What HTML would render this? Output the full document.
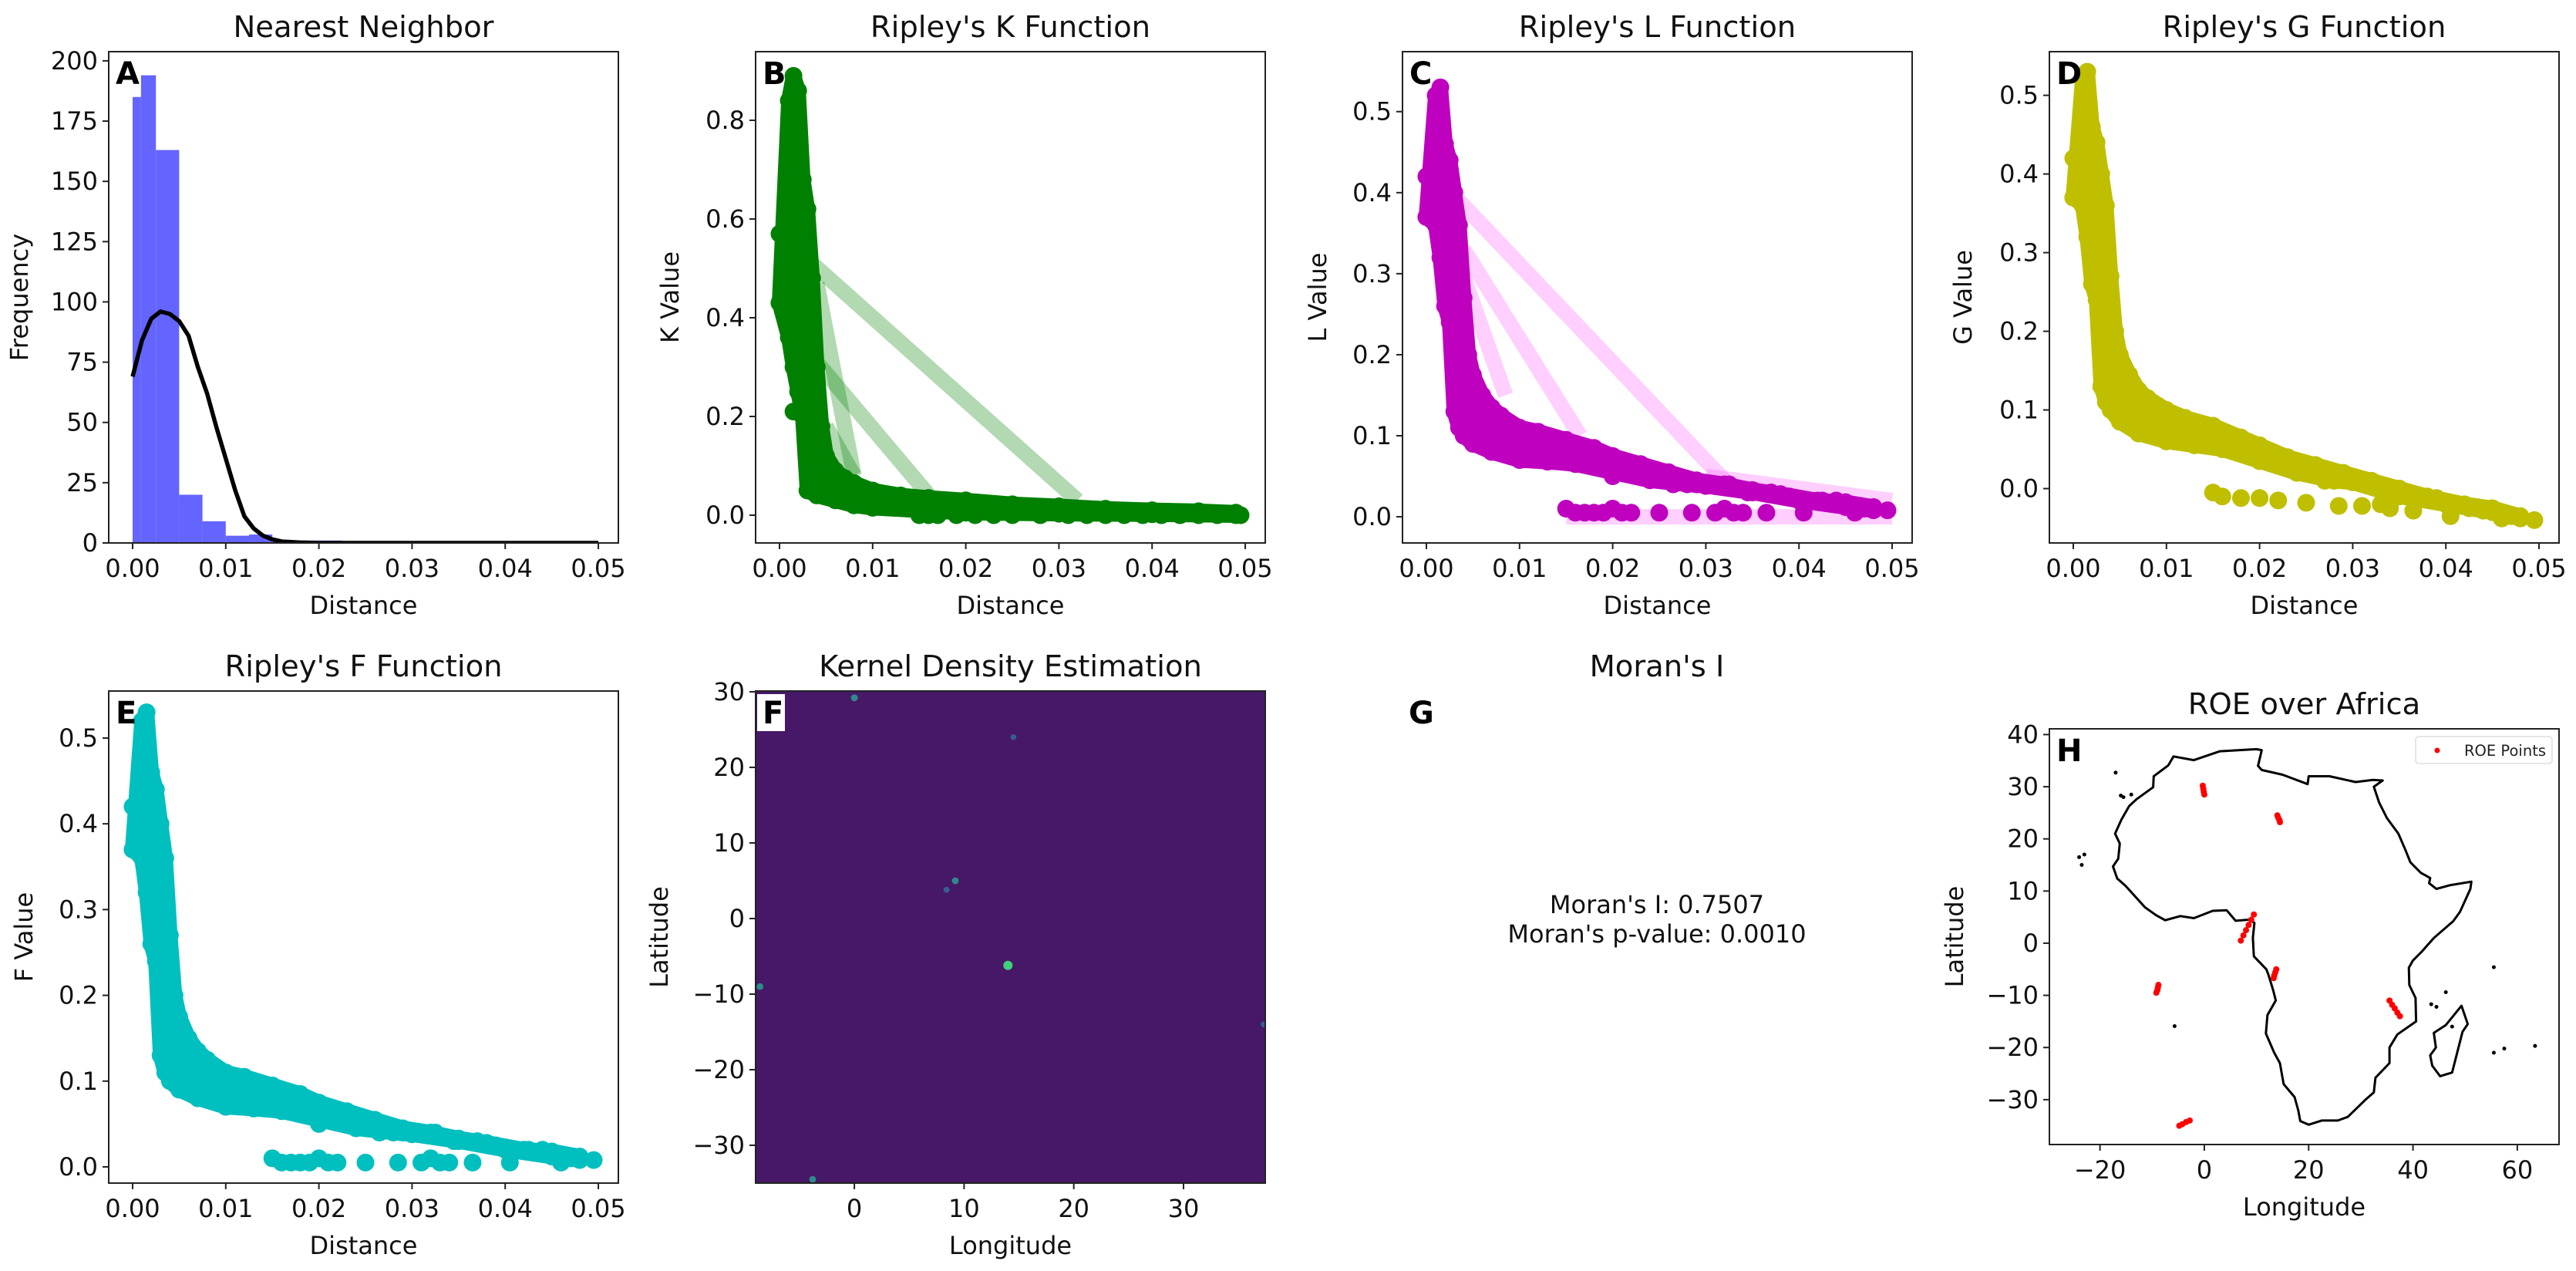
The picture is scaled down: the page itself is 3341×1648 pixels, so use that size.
<!DOCTYPE html>
<html><head><meta charset="utf-8"><style>
html,body{margin:0;padding:0;background:#fff;}
svg{display:block;font-family:"DejaVu Sans","Liberation Sans",sans-serif;}
</style></head><body>
<svg id="fig" width="3341" height="1648" viewBox="0 0 3341 1648" xmlns="http://www.w3.org/2000/svg"></svg>
<script>
// ---------- DATA ----------
const distTicks = [0, 0.01, 0.02, 0.03, 0.04, 0.05];
const distTickLabels = ["0.00","0.01","0.02","0.03","0.04","0.05"];

// A: histogram
const histBinEdges = [0,0.0009,0.0025,0.005,0.0075,0.01,0.0125,0.015,0.0175,0.02,0.0225,0.025,0.0275,0.03,0.0325,0.035,0.0375,0.04,0.0425,0.045,0.0475,0.05];
const histCounts = [185,194,163,20,9,3,3.5,1,1,1,0,0,0,0,0,0,0,0,0,0,0];
const fitX = [0,0.001,0.002,0.003,0.004,0.005,0.006,0.007,0.008,0.009,0.010,0.011,0.012,0.013,0.014,0.015,0.016,0.018,0.02,0.03,0.04,0.05];
const fitY = [69,84,93,96,95,92,86,73,62,48,35,22,11,6,3,1.5,0.6,0.2,0,0,0,0];
const freqTicks = [0,25,50,75,100,125,150,175,200];

// B: K function
const kUpperX = [0.0010,0.0015,0.0020,0.0025,0.0030,0.0035,0.0040,0.0045,0.0050,0.0060,0.0070,0.0080,0.0100,0.0130,0.0160,0.0200,0.0250,0.0300,0.0350,0.0400,0.0450,0.0490];
const kUpperY = [0.84,0.89,0.86,0.68,0.62,0.48,0.30,0.18,0.12,0.09,0.075,0.065,0.05,0.04,0.035,0.03,0.022,0.018,0.013,0.01,0.008,0.005];
const kLowerX = [0.0000,0.0010,0.0015,0.0020,0.0025,0.0030,0.0040,0.0060,0.0080,0.0100,0.0150,0.0200,0.0300,0.0400,0.0490];
const kLowerY = [0.43,0.36,0.30,0.25,0.20,0.05,0.04,0.03,0.02,0.015,0.01,0.005,0.003,0.002,0.0];
const kDotX = [0,0,0.0015,0.015,0.016,0.017,0.019,0.021,0.023,0.025,0.028,0.031,0.033,0.035,0.037,0.039,0.041,0.043,0.045,0.047,0.0495];
const kDotY = [0.57,0.43,0.21,0,0,0,0,0,0,0,0,0,0,0,0,0,0,0,0,0,0];
const kBandX1 = [0.0035,0.004,0.004,0.0005,0.005];
const kBandY1 = [0.51,0.31,0.47,0.56,0.18];
const kBandX2 = [0.032,0.0165,0.008,0.002,0.008];
const kBandY2 = [0.03,0.03,0.08,0.43,0.08];
const kTicks = [0,0.2,0.4,0.6,0.8];

// C: L function
const lUpperX = [0.0010,0.0015,0.0020,0.0025,0.0030,0.0035,0.0040,0.0045,0.0050,0.0060,0.0070,0.0080,0.0100,0.0120,0.0150,0.0180,0.0200,0.0230,0.0260,0.0290,0.0320,0.0350,0.0380,0.0420,0.0450,0.0480];
const lUpperY = [0.52,0.53,0.46,0.44,0.40,0.36,0.27,0.20,0.175,0.15,0.135,0.125,0.11,0.105,0.095,0.085,0.075,0.065,0.055,0.045,0.04,0.033,0.028,0.02,0.018,0.012];
const lLowerX = [0.0000,0.0010,0.0015,0.0020,0.0025,0.0030,0.0035,0.0040,0.0050,0.0070,0.0100,0.0130,0.0160,0.0200,0.0240,0.0280,0.0300,0.0350,0.0400,0.0450,0.0480];
const lLowerY = [0.37,0.36,0.32,0.26,0.24,0.13,0.11,0.10,0.09,0.08,0.07,0.068,0.065,0.055,0.045,0.04,0.038,0.03,0.02,0.012,0.008];
const lDotX = [0,0,0.015,0.016,0.017,0.018,0.019,0.020,0.021,0.022,0.025,0.0285,0.031,0.032,0.033,0.034,0.0365,0.0405,0.0425,0.044,0.046,0.047,0.0495,0.039,0.0325,0.0345,0.037,0.029,0.0265,0.020];
const lDotY = [0.42,0.37,0.01,0.005,0.005,0.005,0.005,0.01,0.005,0.005,0.005,0.005,0.005,0.01,0.005,0.005,0.005,0.005,0.02,0.02,0.005,0.01,0.008,0.025,0.04,0.03,0.03,0.04,0.04,0.05];
const lBandX1 = [0.0035,0.004,0.0005,0.015,0.03];
const lBandY1 = [0.39,0.33,0.41,0.0,0.05];
const lBandX2 = [0.032,0.0165,0.0085,0.05,0.05];
const lBandY2 = [0.045,0.10,0.15,0.0,0.02];
const lTicks = [0,0.1,0.2,0.3,0.4,0.5];

// D: G function
const gUpperX = lUpperX.slice();
const gUpperY = [0.52,0.53,0.46,0.44,0.40,0.36,0.27,0.20,0.17,0.145,0.125,0.115,0.10,0.09,0.08,0.065,0.055,0.04,0.03,0.02,0.01,0.0,-0.01,-0.02,-0.025,-0.035];
const gLowerX = [0.0000,0.0010,0.0015,0.0020,0.0025,0.0030,0.0035,0.0040,0.0050,0.0070,0.0100,0.0130,0.0160,0.0200,0.0240,0.0280,0.0300,0.0350,0.0400,0.0450,0.0480];
const gLowerY = [0.37,0.36,0.32,0.26,0.24,0.13,0.11,0.10,0.085,0.07,0.06,0.055,0.05,0.035,0.02,0.01,0.008,-0.01,-0.02,-0.03,-0.038];
const gDotX = [0,0,0.015,0.016,0.018,0.020,0.022,0.025,0.0285,0.031,0.032,0.033,0.034,0.0365,0.039,0.0405,0.0425,0.044,0.046,0.047,0.0495,0.0295,0.027];
const gDotY = [0.42,0.37,-0.005,-0.01,-0.012,-0.012,-0.015,-0.018,-0.022,-0.022,0.01,-0.02,-0.025,-0.028,-0.012,-0.035,-0.025,-0.028,-0.038,-0.035,-0.04,0.01,0.01];
const gTicks = [0,0.1,0.2,0.3,0.4,0.5];

// E: F function
const fUpperX = lUpperX.slice();
const fUpperY = lUpperY.slice();
const fLowerX = lLowerX.slice();
const fLowerY = lLowerY.slice();
const fDotX = lDotX.slice();
const fDotY = lDotY.slice();
const fTicks = [0,0.1,0.2,0.3,0.4,0.5];

// F: KDE hotspots (lon, lat, intensity 0..1)
const kdeLon = [14,0,9.2,8.4,-8.6,-3.8,14.5,37.3];
const kdeLat = [-6.2,29.2,5,3.8,-9,-34.5,24,-14];
const kdeLevel = [1,0.5,0.45,0.3,0.45,0.45,0.25,0.25];
const kdeXTicks = [0,10,20,30];
const kdeYTicks = [-30,-20,-10,0,10,20,30];

// H: Africa map
const africaLon = [-5.9,-2,3,10,11,10.3,11,15,19.8,20,24,29,32.3,34.2,32.5,33.5,35,37.2,38.5,39.5,41.5,43.3,43.1,44.5,47,51.2,51,49,47.7,44,41.6,40,39.2,39.3,40.5,40.6,37,35.5,35.5,32.8,32.5,31,27.5,25.6,22.5,20,18.4,18,17.3,15.2,14.5,13.4,11.8,12.1,13.7,13.2,12.3,11.9,9.5,9.3,9.6,8.5,6,4.3,1.6,-2,-4.6,-7.5,-9.3,-11.4,-13.2,-15.1,-16.7,-17.5,-16.5,-16.2,-17.1,-15.9,-14.4,-13,-9.8,-9.7,-6.9,-5.9];
const africaLat = [35.8,35.1,36.8,37.2,37,34,33.2,32.3,30.5,32,32,30.9,31.3,31.2,30,27,24,21,18,15.5,13.5,12.5,11.5,10.4,11.1,11.8,10.4,6,4.2,1,-1.7,-3.3,-4.7,-8,-10.5,-15,-17.5,-20,-23,-25.8,-28.6,-29.9,-33.3,-34,-34,-34.8,-34.1,-32,-29.5,-27,-23,-21,-17.3,-13.8,-11,-9,-6.1,-5,-2.5,1,3.9,4.5,4.3,6.3,6.2,4.8,5.2,4.4,5.4,6.9,8.9,11,12.4,14.7,16.2,19.1,21,23.7,26.3,27.6,29.9,32,34.1,35.8];
const madaLon = [49.3,50.5,49.5,47.5,45.2,43.7,43.3,44.4,44,46.3,48,49.3];
const madaLat = [-12,-15.5,-17,-24.8,-25.5,-23.5,-21.5,-20,-17.2,-15.7,-13.6,-12];
const islandLon = [-16,-14,-15.5,-23.5,-24,-23,-17,-5.7,43.5,44.5,55.5,57.5,55.5,63.4,46.3,47.5];
const islandLat = [28.3,28.5,28,15,16.5,17,32.7,-15.9,-11.7,-12.2,-4.6,-20.2,-21,-19.7,-9.4,-16];
const roeLon = [-0.3,-0.2,-0.1,0,14,14.2,14.4,14.5,7,7.5,8,8.5,9,9.5,13.8,13.6,13.4,13.3,-8.8,-8.9,-9,-9.2,35.5,36,36.5,37,37.5,-4.8,-4.2,-3.5,-2.8];
const roeLat = [30.2,29.6,29,28.5,24.5,24,23.6,23.2,0.5,1.5,2.5,3.5,4.5,5.5,-5,-5.6,-6.2,-6.7,-8,-8.5,-9,-9.5,-11,-11.8,-12.5,-13.3,-14,-35,-34.7,-34.3,-34];
const mapXTicks = [-20,0,20,40,60];
const mapYTicks = [-30,-20,-10,0,10,20,30,40];

// ---------- DRAWING ----------
const NS = "http://www.w3.org/2000/svg";
const svg = document.getElementById('fig');
function mk(tag, attrs, parent){
  const e = document.createElementNS(NS, tag);
  for (const k in attrs) e.setAttribute(k, attrs[k]);
  (parent||svg).appendChild(e);
  return e;
}
function txt(s, attrs, parent){ const e = mk('text', attrs, parent); e.textContent = s; return e; }

function makeAxes(cfg){
  const g = mk('g', {});
  
  
  const sx = v => cfg.left + (v - cfg.xmin) / (cfg.xmax - cfg.xmin) * cfg.w;
  const sy = v => cfg.top + cfg.h - (v - cfg.ymin) / (cfg.ymax - cfg.ymin) * cfg.h;
  return {g, sx, sy, cfg};
}
function finishAxes(ax, o){
  const c = ax.cfg, g = ax.g;
  const frame = mk('rect', {x:c.left, y:c.top, width:c.w, height:c.h, fill:'none', stroke:'#222', 'stroke-width':2}, g);
  
  
  const bot = c.top + c.h;
  o.xticks.forEach((v,i)=>{
    const x = ax.sx(v);
    mk('line', {x1:x, y1:bot, x2:x, y2:bot+8, stroke:'#222','stroke-width':2}, g);
    const t = txt(o.xlabels[i], {x:x, y:bot+44, 'font-size':32, 'text-anchor':'middle', fill:'#111'}, g);
    
    
  });
  o.yticks.forEach((v,i)=>{
    const y = ax.sy(v);
    mk('line', {x1:c.left-8, y1:y, x2:c.left, y2:y, stroke:'#222','stroke-width':2}, g);
    const t = txt(o.ylabels[i], {x:c.left-14, y:y+11, 'font-size':32, 'text-anchor':'end', fill:'#111'}, g);
    
    
  });
  if (o.xtitle){
    const t = txt(o.xtitle, {x:c.left+c.w/2, y:bot+92, 'font-size':32, 'text-anchor':'middle', fill:'#111'}, g);
    
    
  }
  if (o.ytitle){
    const cy = c.top + c.h/2;
    const t = txt(o.ytitle, {x:o.ytx, y:cy, 'font-size':32, 'text-anchor':'middle', fill:'#111', transform:`rotate(-90 ${o.ytx} ${cy})`}, g);
    
    
  }
  panelTitle(o.title, c.left+c.w/2, c.top-19, g);
  panelLetter(o.letter, c.left+9, c.top+42, g, o.letterBox);
}
function panelTitle(s, x, y, g){
  const t = txt(s, {x:x, y:y, 'font-size':38.5, 'text-anchor':'middle', fill:'#111'}, g);
  
  
}
function panelLetter(s, x, y, g, box){
  if (box){
    const r = mk('rect', {x:x-7, y:y-38, width:36, height:48, fill:'#fff'}, g);
    
    
  }
  const t = txt(s, {x:x, y:y, 'font-size':40, 'font-weight':'bold', fill:'#000'}, g);
  
  
}
function clip(ax, id){
  const c = ax.cfg;
  const cp = mk('clipPath', {id:id}, ax.g);
  mk('rect', {x:c.left, y:c.top, width:c.w, height:c.h}, cp);
  const g = mk('g', {'clip-path':`url(#${id})`}, ax.g);
  return g;
}
const labels3 = a => a.map(v => v.toFixed(1));

const distX = {xmin:-0.002566, xmax:0.05215, w:661};
const ROW1 = {top:67, h:637}, ROW2 = {top:896, h:638};
const COLS = [141, 980, 1819, 2658];

// ----- A: Nearest neighbor -----
(function(){
  const ax = makeAxes(Object.assign({name:'panel-a-nearest-neighbor', left:COLS[0], ymin:0, ymax:203.8}, distX, ROW1));
  const g = clip(ax, 'clipA');
  histCounts.forEach((v,i)=>{
    if (v<=0) return;
    const x0 = ax.sx(histBinEdges[i]), x1 = ax.sx(histBinEdges[i+1]);
    const r = mk('rect', {x:x0, y:ax.sy(v), width:x1-x0, height:ax.sy(0)-ax.sy(v), fill:'#6464ff'}, g);
    
    
  });
  const pts = fitX.map((x,i)=>`${ax.sx(x).toFixed(1)},${ax.sy(fitY[i]).toFixed(1)}`).join(' ');
  const pl = mk('polyline', {points:pts, fill:'none', stroke:'#000', 'stroke-width':5.5, 'stroke-linejoin':'round'}, g);
  
  
  finishAxes(ax, {xticks:distTicks, xlabels:distTickLabels, yticks:freqTicks, ylabels:freqTicks.map(String), xtitle:'Distance', ytitle:'Frequency', ytx:36, title:'Nearest Neighbor', letter:'A'});
})();

function scatterPanel(o){
  const ax = makeAxes(Object.assign({name:o.name, left:o.left, ymin:o.ymin, ymax:o.ymax}, distX, o.row));
  const g = clip(ax, o.clip);
  if (o.bandX1){
    o.bandX1.forEach((x,i)=>{
      const l = mk('line', {x1:ax.sx(x), y1:ax.sy(o.bandY1[i]), x2:ax.sx(o.bandX2[i]), y2:ax.sy(o.bandY2[i]), stroke:o.bandColor, 'stroke-width':20, 'stroke-opacity':0.3, 'stroke-linecap':'butt'}, g);
      
      
    });
  }
  const up = o.ux.map((x,i)=>`${ax.sx(x).toFixed(1)},${ax.sy(o.uy[i]).toFixed(1)}`);
  const lo = o.lx.map((x,i)=>`${ax.sx(x).toFixed(1)},${ax.sy(o.ly[i]).toFixed(1)}`).reverse();
  const poly = mk('polygon', {points:up.concat(lo).join(' '), fill:o.color, stroke:o.color, 'stroke-width':20, 'stroke-linejoin':'round'}, g);
  
  
  const all = [[o.ux,o.uy],[o.lx,o.ly],[o.dx,o.dy]];
  all.forEach(([xs,ys])=>{
    xs.forEach((x,i)=>{
      const c = mk('circle', {cx:ax.sx(x), cy:ax.sy(ys[i]), r:11.5, fill:o.color}, g);
      
      
    });
  });
  finishAxes(ax, {xticks:distTicks, xlabels:distTickLabels, yticks:o.ticks, ylabels:labels3(o.ticks), xtitle:'Distance', ytitle:o.ytitle, ytx:o.ytx, title:o.title, letter:o.letter});
}
scatterPanel({name:'panel-b-ripley-k', clip:'clipB', left:COLS[1], row:ROW1, ymin:-0.05625, ymax:0.939, ux:kUpperX, uy:kUpperY, lx:kLowerX, ly:kLowerY, dx:kDotX, dy:kDotY, bandX1:kBandX1, bandY1:kBandY1, bandX2:kBandX2, bandY2:kBandY2, bandColor:'#008000', color:'#008000', ticks:kTicks, ytitle:'K Value', ytx:880, title:"Ripley's K Function", letter:'B'});
scatterPanel({name:'panel-c-ripley-l', clip:'clipC', left:COLS[2], row:ROW1, ymin:-0.0323, ymax:0.574, ux:lUpperX, uy:lUpperY, lx:lLowerX, ly:lLowerY, dx:lDotX, dy:lDotY, bandX1:lBandX1, bandY1:lBandY1, bandX2:lBandX2, bandY2:lBandY2, bandColor:'#ff60ff', color:'#bf00bf', ticks:lTicks, ytitle:'L Value', ytx:1720, title:"Ripley's L Function", letter:'C'});
scatterPanel({name:'panel-d-ripley-g', clip:'clipD', left:COLS[3], row:ROW1, ymin:-0.0691, ymax:0.5555, ux:gUpperX, uy:gUpperY, lx:gLowerX, ly:gLowerY, dx:gDotX, dy:gDotY, color:'#bfbf00', ticks:gTicks, ytitle:'G Value', ytx:2557, title:"Ripley's G Function", letter:'D'});
scatterPanel({name:'panel-e-ripley-f', clip:'clipE', left:COLS[0], row:ROW2, ymin:-0.0189, ymax:0.5548, ux:fUpperX, uy:fUpperY, lx:fLowerX, ly:fLowerY, dx:fDotX, dy:fDotY, color:'#00bfbf', ticks:fTicks, ytitle:'F Value', ytx:42, title:"Ripley's F Function", letter:'E'});

// ----- F: KDE -----
(function(){
  const ax = makeAxes(Object.assign({name:'panel-f-kde', left:COLS[1], xmin:-9.0, xmax:37.45, ymin:-35.0, ymax:30.1, w:661}, ROW2));
  const g = clip(ax, 'clipF');
  const bg = mk('rect', {x:ax.cfg.left, y:ax.cfg.top, width:ax.cfg.w, height:ax.cfg.h, fill:'#471868'}, g);
  
  
  kdeLon.forEach((lon,i)=>{
    const lv = kdeLevel[i];
    const col = lv > 0.8 ? '#3fd07a' : (lv > 0.4 ? '#2f8a8c' : '#35608d');
    const c = mk('circle', {cx:ax.sx(lon), cy:ax.sy(kdeLat[i]), r:3+lv*3, fill:col}, g);
    
    
  });
  finishAxes(ax, {xticks:kdeXTicks, xlabels:kdeXTicks.map(String), yticks:kdeYTicks, ylabels:kdeYTicks.map(v=>v<0?'\u2212'+(-v):String(v)), xtitle:'Longitude', ytitle:'Latitude', ytx:866, title:'Kernel Density Estimation', letter:'F', letterBox:true});
})();

// ----- G: Moran's I -----
(function(){
  const g = mk('g', {});
  
  
  panelTitle("Moran's I", 2149, 877, g);
  panelLetter('G', 1827, 938, g);
  const t1 = txt("Moran's I: 0.7507", {x:2149, y:1184, 'font-size':32, 'text-anchor':'middle', fill:'#111'}, g);
  
  
  const t2 = txt("Moran's p-value: 0.0010", {x:2149, y:1222, 'font-size':32, 'text-anchor':'middle', fill:'#111'}, g);
  
  
})();

// ----- H: Africa map -----
(function(){
  const ax = makeAxes({name:'panel-h-roe-map', left:COLS[3], top:945, w:661, h:539, xmin:-29.7, xmax:68.0, ymin:-38.6, ymax:41.1});
  const g = clip(ax, 'clipH');
  const toPts = (xs,ys)=>xs.map((x,i)=>`${ax.sx(x).toFixed(1)},${ax.sy(ys[i]).toFixed(1)}`).join(' ');
  const af = mk('polygon', {points:toPts(africaLon, africaLat), fill:'none', stroke:'#000', 'stroke-width':3, 'stroke-linejoin':'round'}, g);
  
  
  const md = mk('polygon', {points:toPts(madaLon, madaLat), fill:'none', stroke:'#000', 'stroke-width':3, 'stroke-linejoin':'round'}, g);
  
  
  islandLon.forEach((x,i)=>{
    const c = mk('circle', {cx:ax.sx(x), cy:ax.sy(islandLat[i]), r:2.5, fill:'#000'}, g);
    
    
  });
  roeLon.forEach((x,i)=>{
    const c = mk('circle', {cx:ax.sx(x), cy:ax.sy(roeLat[i]), r:4, fill:'#ff0000'}, g);
    
    
  });
  const lg = mk('g', {}, ax.g);
  
  
  mk('rect', {x:3133, y:955, width:177, height:35, rx:4, fill:'#fff', stroke:'#ddd', 'stroke-width':1.5}, lg);
  mk('circle', {cx:3161, cy:973, r:3.5, fill:'#ff0000'}, lg);
  const lt = txt('ROE Points', {x:3196, y:980, 'font-size':19.5, fill:'#222'}, lg);
  
  
  finishAxes(ax, {xticks:mapXTicks, xlabels:mapXTicks.map(v=>v<0?'\u2212'+(-v):String(v)), yticks:mapYTicks, ylabels:mapYTicks.map(v=>v<0?'\u2212'+(-v):String(v)), xtitle:'Longitude', ytitle:'Latitude', ytx:2546, title:'ROE over Africa', letter:'H'});
})();
</script>
</body></html>
